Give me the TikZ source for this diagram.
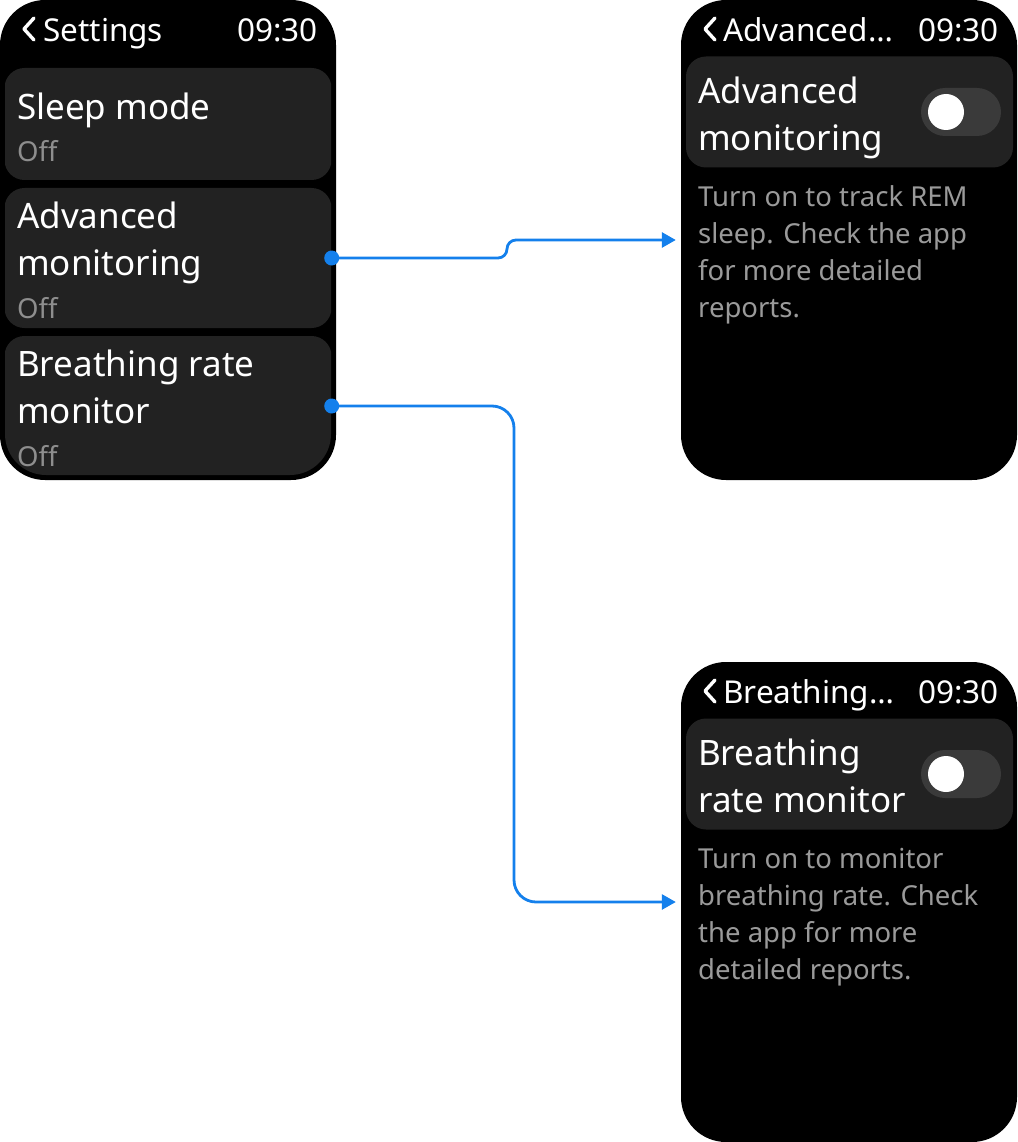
\documentclass[tikz,border=0pt]{standalone}
\usepackage{fontspec}
\setmainfont{Noto Sans}
\usetikzlibrary{arrows.meta}
\definecolor{cardgray}{HTML}{222222}
\definecolor{trackgray}{HTML}{3A3A3A}
\definecolor{subgray}{HTML}{8E8E8E}
\definecolor{descgray}{HTML}{9A9A9A}
\definecolor{linkblue}{HTML}{1480EC}
\tikzset{
 screen/.style={fill=black, rounded corners=45pt, minimum width=336pt, minimum height=480pt, inner sep=0},
 card/.style={fill=cardgray, rounded corners=20pt, minimum width=327pt, inner sep=0},
 txt/.style={anchor=base west, inner sep=0, text=white, yshift=-1.5pt},
 title/.style={txt, font=\fontsize{31.5}{31.5}\selectfont},
 big/.style={txt, font=\fontsize{35}{35}\selectfont},
 sub/.style={txt, text=subgray, font=\fontsize{27.5}{27.5}\selectfont},
 desc/.style={txt, text=descgray, font=\fontsize{27.5}{27.5}\selectfont},
 chev/.style={white, line width=3.4pt, line cap=round, line join=round},
 link/.style={linkblue, line width=2.8pt, -{Triangle[length=14pt,width=15pt]}, shorten >=5pt},
}
\begin{document}
\begin{tikzpicture}[x=1pt, y=-1pt]
\useasboundingbox[fill=white] (0,0) rectangle (1017,1142);
% settings list
\node[screen] (s1) at (168,240) {};
\begin{scope}
\clip[rounded corners=41pt] (5,0) rectangle (331,475);
\node[card, minimum height=112pt] (c1) at (168,124) {};
\node[card, minimum height=140pt] (c2) at (168,258) {};
\node[card, minimum height=140pt] (c3) at (168,406) {};
\end{scope}
\draw[chev] (34,18) -- (24,29) -- (34,40);
\node[title] at (43,40) {Settings};
\node[title, anchor=base east] at (318,40) {09:30};
\node[big] at (17,118) {Sleep mode};
\node[sub] at (17,160) {Off};
\node[big] at (17,227) {Advanced};
\node[big] at (17,274) {monitoring};
\node[sub] at (17,317) {Off};
\node[big] at (17,375) {Breathing rate};
\node[big] at (17,422) {monitor};
\node[sub] at (17,465) {Off};
% detail pages
\foreach \n/\y/\head/\la/\lb in {2/0/Advanced…/Advanced/monitoring, 3/662/Breathing…/Breathing/rate monitor} {
 \node[screen] (s\n) at (849,\y+240) {};
 \node[card, minimum height=111pt] (d\n) at (849.5,\y+112) {};
 \fill[trackgray, rounded corners=24pt] (921,\y+88) rectangle (1001,\y+136);
 \fill[white] (946,\y+112) circle (18pt);
 \draw[chev] (715,\y+18) -- (705,\y+29) -- (715,\y+40);
 \node[title] at (723,\y+40) {\head};
 \node[title, anchor=base east] at (999,\y+40) {09:30};
 \node[big] at (698,\y+102) {\la};
 \node[big] at (698,\y+149) {\lb};
}
\foreach \t [count=\i] in {Turn on to track REM, sleep. Check the app, for more detailed, reports.}
 \node[desc] at (698,168+37*\i) {\t};
\foreach \t [count=\i] in {Turn on to monitor, breathing rate. Check, the app for more, detailed reports.}
 \node[desc] at (698,830+37*\i) {\t};
% connectors
\fill[linkblue] (c2.east) circle (7.5pt) (c3.east) circle (7.5pt);
\draw[link, rounded corners=9pt] (c2.east) -| (507,240) -- (s2.west);
\draw[link, rounded corners=22pt] (c3.east) -| (514,654) |- (s3.west);
\end{tikzpicture}
\end{document}
